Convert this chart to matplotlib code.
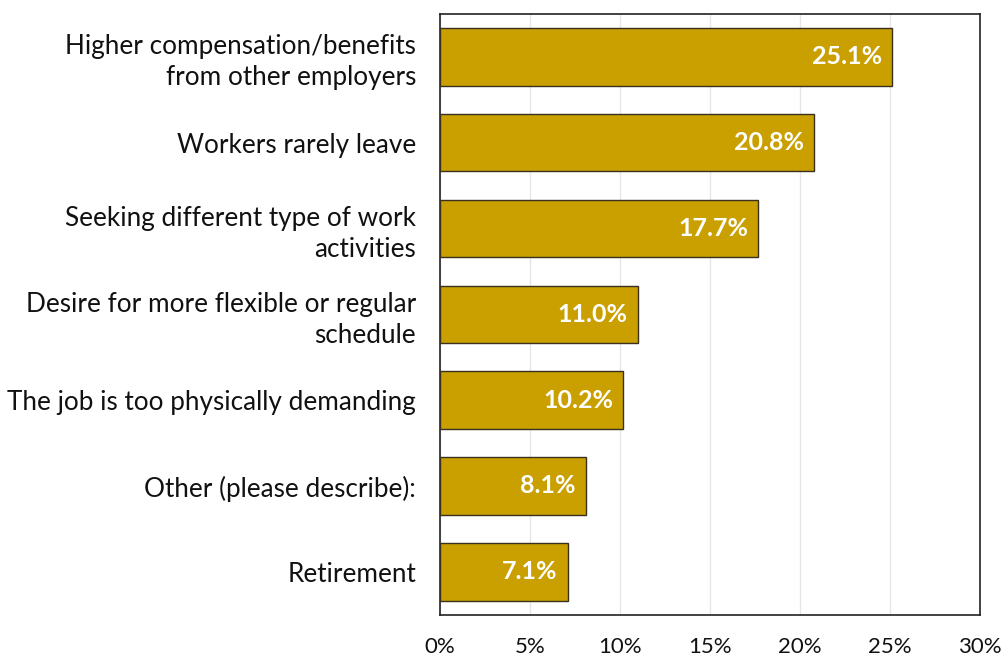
import matplotlib.pyplot as plt
import numpy as np

categories = ["Higher compensation/benefits\nfrom other employers",
              "Workers rarely leave",
              "Seeking different type of work\nactivities",
              "Desire for more flexible or regular\nschedule",
              "The job is too physically demanding",
              "Other (please describe):",
              "Retirement"]
values = [25.1, 20.8, 17.7, 11.0, 10.2, 8.1, 7.1]
xticks = [0, 5, 10, 15, 20, 25, 30]

plt.rcParams['font.family'] = ['Lato', 'DejaVu Sans']

fig = plt.figure(figsize=(10.04, 6.61), dpi=100)
ax = fig.add_axes([0.438, 0.070, 0.538, 0.909])

y = np.arange(len(categories))
bars = ax.barh(y, values, height=0.67, color='#C9A000', edgecolor='#3a3020', linewidth=1.0, zorder=3)

for yi, v in zip(y, values):
    ax.text(v - 0.55, yi, f"{v:.1f}%", ha='right', va='center', color='white',
            fontsize=18, fontweight='bold', zorder=4)

ax.set_yticks(y)
ax.set_yticklabels(categories, fontsize=18.8, color='#111111', linespacing=1.3)
ax.set_ylim(len(categories) - 0.5, -0.5)
ax.set_xlim(0, 30)
ax.set_xticks(xticks)
ax.set_xticklabels([f"{t}%" for t in xticks], fontsize=16, color='#111111')
ax.tick_params(axis='y', length=0, pad=17)
ax.tick_params(axis='x', length=0, pad=16)
ax.xaxis.grid(True, color='#e6e6e6', linewidth=1, zorder=0)
for s in ax.spines.values():
    s.set_color('#222222')
    s.set_linewidth(1.2)

fig.savefig('out.png', dpi=100)
